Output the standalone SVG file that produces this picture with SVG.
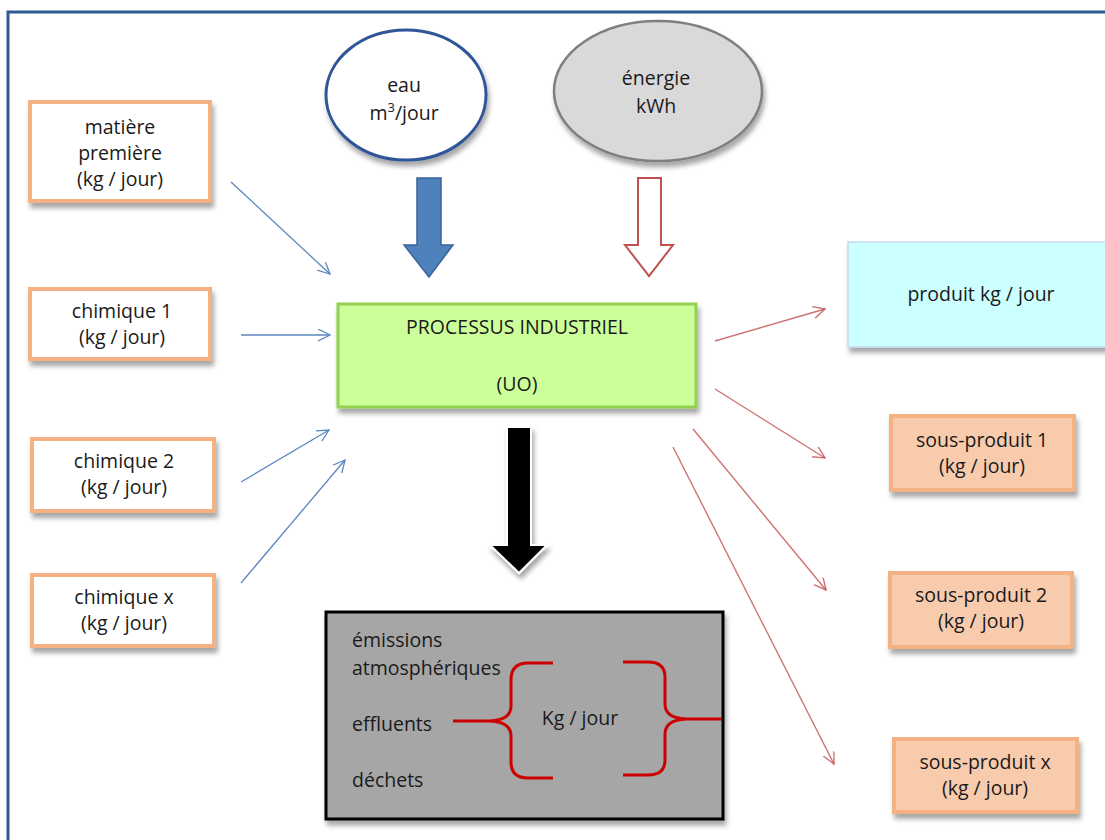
<svg xmlns="http://www.w3.org/2000/svg" width="1105" height="840" viewBox="0 0 1105 840">
<style>
text{font-family:"Open Sans","Liberation Sans",sans-serif;font-size:19.5px;fill:#1a1a1a;text-anchor:middle}
.l{text-anchor:start}
.in{fill:#fff;stroke:#f4b183;stroke-width:4}
.out{fill:#f8cbad;stroke:#f4b183;stroke-width:4}
.bl{stroke:#5b87bd;stroke-width:1.3;fill:none}
.rd{stroke:#c0504d;stroke-opacity:.8;stroke-width:1.4;fill:none}
.br{stroke:#cc0000;stroke-width:3;fill:none}
</style>
<defs>
<filter id="sh" x="-10%" y="-10%" width="130%" height="140%">
<feDropShadow dx="2" dy="5" stdDeviation="2.5" flood-color="#000" flood-opacity=".35"/>
</filter>
<marker id="ab" markerWidth="14" markerHeight="14" refX="12" refY="6" orient="auto" markerUnits="userSpaceOnUse">
<path d="M0,0 L12,6 L0,12" fill="none" stroke="#5b87bd" stroke-width="1.3"/>
</marker>
<marker id="ar" markerWidth="14" markerHeight="14" refX="12" refY="6" orient="auto" markerUnits="userSpaceOnUse">
<path d="M0,0 L12,6 L0,12" fill="none" stroke="#c0504d" stroke-opacity=".8" stroke-width="1.4"/>
</marker>
</defs>
<rect width="1105" height="840" fill="#fff"/>
<rect x="8" y="12" width="1110" height="840" fill="none" stroke="#2e5b94" stroke-width="3"/>

<g id="matiere"><rect class="in" x="30" y="102" width="180" height="99" filter="url(#sh)"/>
<text x="120" y="134">matière</text><text x="120" y="160">première</text><text x="120" y="186">(kg / jour)</text></g>
<g id="chimique1"><rect class="in" x="30" y="289" width="180" height="70" filter="url(#sh)"/>
<text x="122" y="318">chimique 1</text><text x="122" y="344">(kg / jour)</text></g>
<g id="chimique2"><rect class="in" x="32" y="439" width="182" height="72" filter="url(#sh)"/>
<text x="124" y="468">chimique 2</text><text x="124" y="494">(kg / jour)</text></g>
<g id="chimiquex"><rect class="in" x="32" y="575" width="182" height="71" filter="url(#sh)"/>
<text x="124" y="604">chimique x</text><text x="124" y="630">(kg / jour)</text></g>

<g id="eau"><ellipse cx="406" cy="95" rx="80" ry="65" fill="#fff" stroke="#2f5597" stroke-width="3" filter="url(#sh)"/>
<text x="404" y="92">eau</text><text x="404" y="120">m<tspan font-size="13" dy="-8">3</tspan><tspan dy="8">/jour</tspan></text></g>
<g id="energie"><ellipse cx="658" cy="91" rx="104" ry="70" fill="#d9d9d9" stroke="#7f7f7f" stroke-width="2.5" filter="url(#sh)"/>
<text x="656" y="85">énergie</text><text x="656" y="113">kWh</text></g>

<g id="processus"><rect x="338" y="304" width="358" height="103" fill="#ccff99" stroke="#92d050" stroke-width="3" filter="url(#sh)"/>
<text x="517" y="334">PROCESSUS INDUSTRIEL</text><text x="517" y="391">(UO)</text></g>

<g id="produit"><rect x="848" y="242" width="270" height="105" fill="#ccffff" stroke="#c5d9f1" stroke-width="1.5" filter="url(#sh)"/>
<text x="981" y="301">produit kg / jour</text></g>
<g id="sousproduit1"><rect class="out" x="891" y="416" width="183" height="74" filter="url(#sh)"/>
<text x="982" y="447">sous-produit 1</text><text x="982" y="473">(kg / jour)</text></g>
<g id="sousproduit2"><rect class="out" x="890" y="573" width="182" height="74" filter="url(#sh)"/>
<text x="981" y="602">sous-produit 2</text><text x="981" y="628">(kg / jour)</text></g>
<g id="sousproduitx"><rect class="out" x="894" y="739" width="183" height="73" filter="url(#sh)"/>
<text x="985" y="769">sous-produit x</text><text x="985" y="795">(kg / jour)</text></g>

<g id="rejets"><rect x="326" y="612" width="397" height="207" fill="#a6a6a6" stroke="#000" stroke-width="3" filter="url(#sh)"/>
<text class="l" x="352" y="647">émissions</text>
<text class="l" x="352" y="675">atmosphériques</text>
<text class="l" x="352" y="731">effluents</text>
<text class="l" x="352" y="787">déchets</text>
<text x="580" y="725">Kg / jour</text>
<path class="br" d="M553,663 H528 Q511,663 511,680 V706 Q511,720 490,721 Q511,722 511,736 V762 Q511,778 528,778 H553 M453,721 H492"/>
<path class="br" d="M623,662 H648 Q665,662 665,677 V704 Q665,718 686,719 Q665,720 665,734 V760 Q665,775 648,775 H623 M684,719 H722"/>
</g>

<g id="connectors">
<line class="bl" x1="231" y1="182" x2="330" y2="274" marker-end="url(#ab)"/>
<line class="bl" x1="241" y1="335" x2="330" y2="335" marker-end="url(#ab)"/>
<line class="bl" x1="241" y1="482" x2="329" y2="430" marker-end="url(#ab)"/>
<line class="bl" x1="241" y1="583" x2="345" y2="460" marker-end="url(#ab)"/>
<line class="rd" x1="715" y1="341" x2="825" y2="309" marker-end="url(#ar)"/>
<line class="rd" x1="715" y1="389" x2="825" y2="458" marker-end="url(#ar)"/>
<line class="rd" x1="693" y1="429" x2="826" y2="590" marker-end="url(#ar)"/>
<line class="rd" x1="673" y1="447" x2="834" y2="764" marker-end="url(#ar)"/>
<path d="M417,178 H441 V245 H453 L429,277 L404,245 H417 Z" fill="#4f81bd" stroke="#3a6499" stroke-width="1.5"/>
<path d="M638,178 H661 V245 H673 L649,276 L625,245 H638 Z" fill="#fff" stroke="#c0504d" stroke-width="2"/>
<path d="M507,427 H531 V545 H547 L519,573 L490,545 H507 Z" fill="#000" stroke="#fff" stroke-width="2" filter="url(#sh)"/>
</g>
</svg>
